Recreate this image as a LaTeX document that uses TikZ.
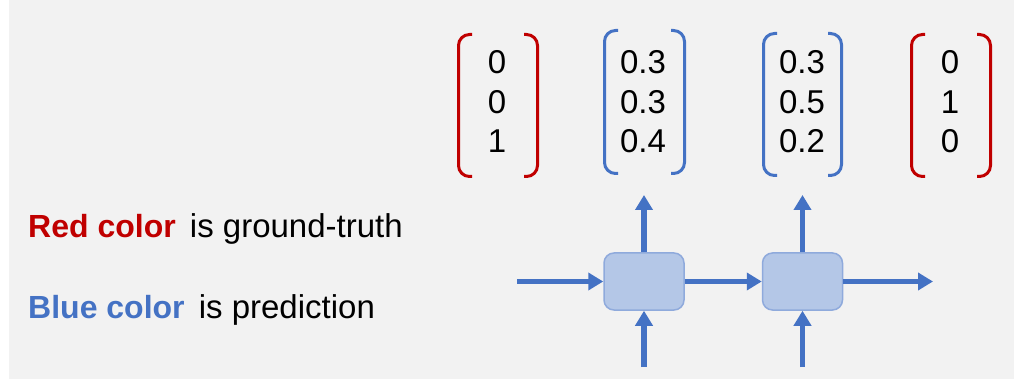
\documentclass[tikz,border=0pt]{standalone}
\usepackage{fontspec}
\setmainfont{Liberation Sans}
\usetikzlibrary{arrows.meta}
\definecolor{bg}{HTML}{F2F2F2}
\definecolor{gtred}{HTML}{C00000}
\definecolor{predblue}{HTML}{4472C4}
\definecolor{cellfill}{HTML}{B4C7E7}
\definecolor{celledge}{HTML}{8FAADC}
\newcommand{\keyword}[2]{{\fontsize{32}{32}\selectfont\bfseries\color{#1}#2}}
\tikzset{
  brk/.style={line width=3pt, rounded corners=11pt},
  num/.style={anchor=base, inner sep=0pt, font=\fontsize{33}{33}\selectfont},
  legend/.style={anchor=base west, inner sep=0pt, font=\fontsize{33}{33}\selectfont},
  cell/.style={draw=celledge, fill=cellfill, line width=1.5pt, rounded corners=10pt,
    minimum width=80pt, minimum height=57pt, inner sep=0pt},
  flow/.style={draw=predblue, line width=5.5pt, -{Triangle[length=15pt,width=17pt]}}
}
\begin{document}
\begin{tikzpicture}[x=1pt,y=-1pt]
  \useasboundingbox (0,0) rectangle (1014,379);
  \fill[white] (0,0) rectangle (1014,379);
  \fill[bg] (9,0) rectangle (1014,379);

  % legend
  \node[legend] (lgred) at (28,238) {\keyword{gtred}{Red color}\hspace{5pt} is ground-truth};
  \node[legend] (lgblue) at (28,318) {\keyword{predblue}{Blue color}\hspace{5pt} is prediction};

  % column vectors: name / centre x / three entries
  \foreach \nm/\cx/\a/\b/\c in {ga/497/0/0/1, pa/643/0.3/0.3/0.4, pb/802/0.3/0.5/0.2, gb/950/0/1/0}{
    \node[num] (\nm1) at (\cx,74) {\a};
    \node[num] (\nm2) at (\cx,113.5) {\b};
    \node[num] (\nm3) at (\cx,153) {\c};
  }

  % brackets: left outer x / right outer x / top / bottom / colour
  \foreach \l/\r/\t/\bt/\col in {457/539/33/178/gtred, 603/686/29/175/predblue,
                                 762/843/32/177/predblue, 910/992/33/178/gtred}{
    \draw[brk, \col] (\l+15,\t+1.5) -- (\l+1.5,\t+1.5) -- (\l+1.5,\bt-1.5) -- (\l+15,\bt-1.5);
    \draw[brk, \col] (\r-15,\t+1.5) -- (\r-1.5,\t+1.5) -- (\r-1.5,\bt-1.5) -- (\r-15,\bt-1.5);
  }

  % recurrent cells
  \node[cell] (c1) at (644,281.5) {};
  \node[cell] (c2) at (802.5,281.5) {};

  \coordinate (hin) at (517,281.5);
  \coordinate (hout) at (933,281.5);
  \coordinate (x1) at (644,367);
  \coordinate (x2) at (802.5,367);
  \coordinate (y1) at (644,195);
  \coordinate (y2) at (802.5,195);

  \draw[flow] (hin) -- (c1.west);
  \draw[flow] (c1.east) -- (c2.west);
  \draw[flow] (c2.east) -- (hout);
  \draw[flow] (x1) -- (c1.south);
  \draw[flow] (x2) -- (c2.south);
  \draw[flow] (c1.north) -- (y1);
  \draw[flow] (c2.north) -- (y2);
\end{tikzpicture}
\end{document}
